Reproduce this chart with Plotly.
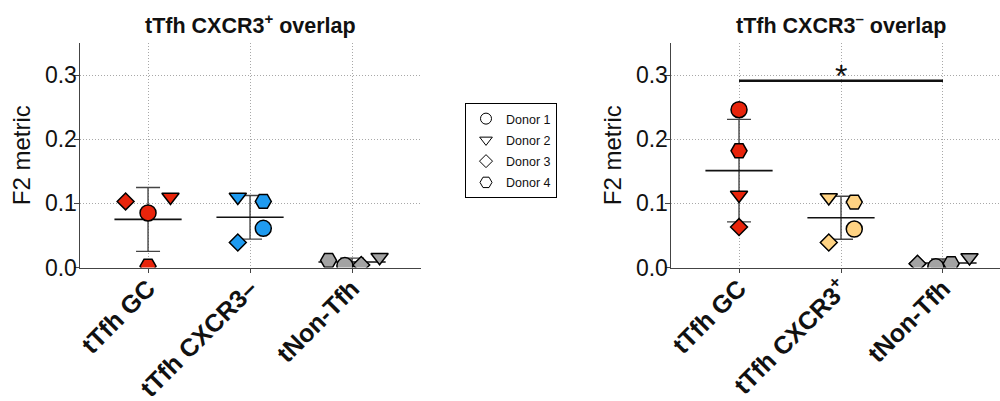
import numpy as np
import plotly.graph_objects as go

# ---------------- data ----------------
donors = ["Donor 1", "Donor 2", "Donor 3", "Donor 4"]

left_title = "tTfh CXCR3<sup>+</sup> overlap"
left_categories = ["tTfh GC", "tTfh CXCR3–", "tNon-Tfh"]
# values per category, order = Donor 1..4
left_tTfh_GC = [0.085, 0.110, 0.103, 0.002]
left_tTfh_CXCR3neg = [0.061, 0.110, 0.039, 0.103]
left_tNon_Tfh = [0.003, 0.016, 0.004, 0.011]

right_title = "tTfh CXCR3<sup>–</sup> overlap"
right_categories = ["tTfh GC", "tTfh CXCR3<sup>+</sup>", "tNon-Tfh"]
right_tTfh_GC = [0.246, 0.113, 0.063, 0.182]
right_tTfh_CXCR3pos = [0.060, 0.109, 0.039, 0.102]
right_tNon_Tfh = [0.001, 0.0155, 0.006, 0.006]

significance_right = {"from": 0, "to": 2, "y": 0.291, "label": "*"}

y_ticks = [0.0, 0.1, 0.2, 0.3]

# ---------------- style ----------------
FONT = "Liberation Sans, Arial, sans-serif"
RED = "#E8240B"
BLUE = "#1F9BF0"
YELLOW = "#FFD383"
GRAY = "#A3A3A3"

symbols = {"Donor 1": "circle", "Donor 2": "triangle-down",
           "Donor 3": "diamond", "Donor 4": "hexagon2"}
sizes = {"Donor 1": 16, "Donor 2": 15, "Donor 3": 13, "Donor 4": 16}
legend_sizes = {"Donor 1": 11, "Donor 2": 11, "Donor 3": 10, "Donor 4": 12}

# horizontal scatter offsets (category units) per group, order Donor 1..4
left_offsets = [[0.0, 0.22, -0.22, 0.0],
                [0.13, -0.12, -0.12, 0.13],
                [-0.07, 0.27, 0.09, -0.23]]
right_offsets = [[0.0, 0.0, 0.0, 0.0],
                 [0.13, -0.12, -0.12, 0.13],
                 [-0.07, 0.26, -0.25, 0.08]]

left_groups = [left_tTfh_GC, left_tTfh_CXCR3neg, left_tNon_Tfh]
right_groups = [right_tTfh_GC, right_tTfh_CXCR3pos, right_tNon_Tfh]
left_colors = [RED, BLUE, GRAY]
right_colors = [RED, YELLOW, GRAY]

fig = go.Figure()


def add_panel(groups, colors, offsets, xa, ya):
    # mean +/- SD first (drawn beneath the points)
    for gi, vals in enumerate(groups):
        v = np.array(vals)
        m = v.mean()
        sd = v.std(ddof=1)
        fig.add_trace(go.Scatter(
            x=[gi], y=[m], mode="markers", showlegend=False, hoverinfo="skip",
            marker=dict(symbol="line-ew", size=48, color="black",
                        line=dict(width=1.6, color="#111")),
            error_y=dict(type="data", array=[sd], visible=True, width=12,
                         thickness=1.4, color="#444"),
            xaxis=xa, yaxis=ya))
    # individual donor points
    for gi, vals in enumerate(groups):
        for di, d in enumerate(donors):
            fig.add_trace(go.Scatter(
                x=[gi + offsets[gi][di]], y=[vals[di]], mode="markers",
                showlegend=False, name=d,
                marker=dict(symbol=symbols[d], size=sizes[d], color=colors[gi],
                            line=dict(width=1.5, color="black")),
                xaxis=xa, yaxis=ya))


add_panel(left_groups, left_colors, left_offsets, "x", "y")
add_panel(right_groups, right_colors, right_offsets, "x2", "y2")

# significance bar on the right panel
fig.add_trace(go.Scatter(
    x=[significance_right["from"], significance_right["to"]],
    y=[significance_right["y"], significance_right["y"]],
    mode="lines", line=dict(color="#111", width=2.5),
    showlegend=False, hoverinfo="skip", xaxis="x2", yaxis="y2"))

# legend entries (open symbols)
for d in donors:
    fig.add_trace(go.Scatter(
        x=[None], y=[None], mode="markers", name=d, showlegend=True,
        legendgroup=d,
        marker=dict(symbol=symbols[d], size=legend_sizes[d], color="white",
                    line=dict(width=1, color="black")),
        xaxis="x", yaxis="y"))

ydom = [(401 - 267.5) / 401, (401 - 43) / 401]

GRID = dict(showgrid=True, gridcolor="#A8A8A8", griddash="1px,2px", gridwidth=1)

xcommon = dict(
    tickmode="array", tickvals=[0, 1, 2], tickangle=-45,
    tickfont=dict(family=FONT, size=25, color="#111", weight="bold"),
    ticklabelstandoff=-9,
    showline=True, linecolor="#444", linewidth=1.5,
    ticks="outside", ticklen=4, tickcolor="#444", tickwidth=1,
    zeroline=False, fixedrange=True, automargin=False, **GRID,
)
ycommon = dict(
    domain=ydom, range=[0, 0.35], tickmode="array", tickvals=y_ticks,
    ticktext=[f"{t:.1f}" for t in y_ticks],
    tickfont=dict(family=FONT, size=23, color="#111"),
    ticklabelstandoff=-8,
    showline=True, linecolor="#444", linewidth=1.5,
    ticks="outside", ticklen=5, tickcolor="#444", tickwidth=1,
    zeroline=False, fixedrange=True, automargin=False, **GRID,
    title=dict(text="F2 metric", font=dict(family=FONT, size=24, color="#111"),
               standoff=7),
)

fig.update_layout(
    width=1000, height=401,
    margin=dict(l=0, r=0, t=0, b=0, autoexpand=False),
    paper_bgcolor="white", plot_bgcolor="white",
    font=dict(family=FONT, color="#111"),
    xaxis=dict(domain=[0.080, 0.421], range=[-0.667, 2.676],
               ticktext=left_categories, anchor="y", **xcommon),
    yaxis=dict(anchor="x", **ycommon),
    xaxis2=dict(domain=[0.671, 1.0], range=[-0.667, 2.559],
                ticktext=right_categories, anchor="y2", **xcommon),
    yaxis2=dict(anchor="x2", **ycommon),
    legend=dict(x=0.465, y=(401 - 103) / 401, xanchor="left", yanchor="top",
                bordercolor="black", borderwidth=1, bgcolor="white",
                tracegroupgap=2,
                font=dict(family=FONT, size=12.5, color="#111"),
                itemclick=False, itemdoubleclick=False),
    showlegend=True,
    annotations=[
        dict(text=f"<b>{left_title}</b>", x=1, y=(401 - 24) / 401, xref="x",
             yref="paper", showarrow=False,
             font=dict(family=FONT, size=21.5, color="#111"),
             xanchor="center", yanchor="middle"),
        dict(text=f"<b>{right_title}</b>", x=1, y=(401 - 24) / 401, xref="x2",
             yref="paper", showarrow=False,
             font=dict(family=FONT, size=21.5, color="#111"),
             xanchor="center", yanchor="middle"),
        dict(text=significance_right["label"], x=1, y=significance_right["y"],
             xref="x2", yref="y2", showarrow=False, yanchor="bottom",
             yshift=-15, font=dict(family=FONT, size=32, color="#111")),
    ],
)

fig.write_html(
    "out.html",
    config={"displayModeBar": False, "staticPlot": True},
    post_script="document.body.style.margin='0';"
                "document.body.style.overflow='hidden';",
)
